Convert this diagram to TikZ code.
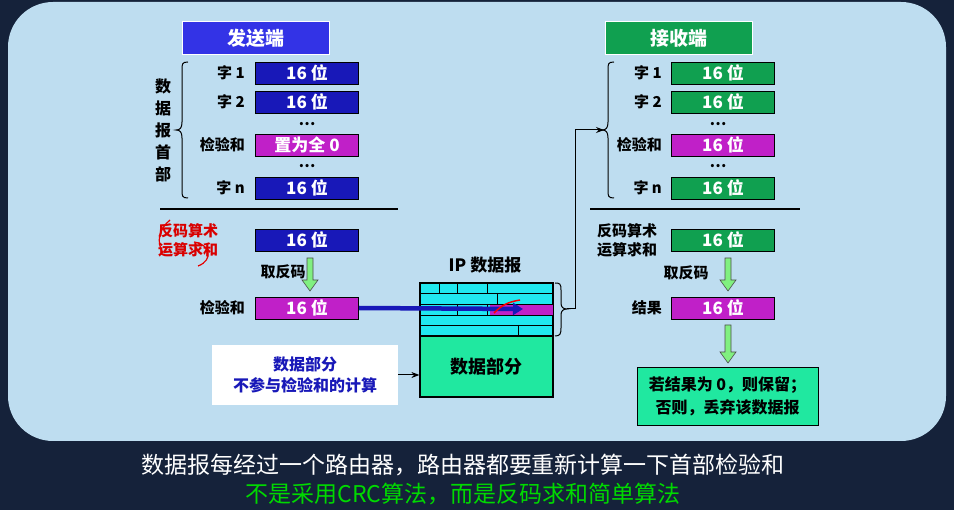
\documentclass[tikz,border=0pt]{standalone}
\usepackage{fontspec}
\setmainfont{Noto Sans CJK SC}
\usetikzlibrary{arrows.meta}
\definecolor{bgdark}{HTML}{15223A}
\definecolor{panel}{HTML}{BEDDF0}
\definecolor{sblue}{HTML}{1818B8}
\definecolor{hblue}{HTML}{3333E6}
\definecolor{rgreen}{HTML}{10A050}
\definecolor{mag}{HTML}{C020C8}
\definecolor{dgreen}{HTML}{20E8A0}
\definecolor{cyanh}{HTML}{20E8F0}
\definecolor{lgreen}{HTML}{80F080}
\tikzset{
 fbox/.style={draw=black,line width=0.8pt,minimum width=103pt,minimum height=22pt,inner sep=0pt,text=white,font=\bfseries\fontsize{17}{17}\selectfont},
 bluebox/.style={fbox,fill=sblue},
 grnbox/.style={fbox,fill=rgreen},
 magbox/.style={fbox,fill=mag},
 lbl/.style={font=\bfseries\fontsize{15}{19}\selectfont,align=center,inner sep=0pt},
 headbox/.style={draw=white,line width=1pt,minimum width=147pt,minimum height=33pt,inner sep=0pt,text=white,font=\bfseries\fontsize{19}{19}\selectfont},
 garrow/.style={draw=black!70,fill=lgreen,line width=0.6pt},
}
\newcommand{\garr}[3]{% x, ytop, ybottom
 \filldraw[garrow] (#1-3,#2) -- (#1+3,#2) -- (#1+3,#3-11) -- (#1+8,#3-11) -- (#1,#3) -- (#1-8,#3-11) -- (#1-3,#3-11) -- cycle;}
\begin{document}
\begin{tikzpicture}[x=1pt,y=-1pt]
\fill[bgdark] (0,0) rectangle (954,510);
\useasboundingbox (0,0) rectangle (954,510);
\fill[panel,rounded corners=45pt] (8,2) rectangle (946,441);
% headers
\node[headbox,fill=hblue] (snd) at (256,38) {发送端};
\node[headbox,fill=rgreen] (rcv) at (679,38) {接收端};
% left rows
\node[bluebox] (l1) at (307,73) {16 位};
\node[bluebox] (l2) at (307,102) {16 位};
\node[lbl] (ld1) at (307,124) {…};
\node[magbox] (l3) at (307,145) {置为全 0};
\node[lbl] (ld2) at (307,166) {…};
\node[bluebox] (ln) at (307,188) {16 位};
\node[lbl,anchor=east] (t1) at (245,73) {字 1};
\node[lbl,anchor=east] (t2) at (245,102) {字 2};
\node[lbl,anchor=east] (t3) at (245,145) {检验和};
\node[lbl,anchor=east] (tn) at (245,188) {字 n};
\draw[line width=1pt] (188,62) .. controls (182,62) and (182,64) .. (182,70) -- (182,122) .. controls (182,128) and (180,130) .. (176,130) .. controls (180,130) and (182,132) .. (182,138) -- (182,190) .. controls (182,196) and (182,198) .. (188,198);
\node[lbl,font=\bfseries\fontsize{16}{22}\selectfont] (vh) at (163,130) {数\\据\\报\\首\\部};
\draw[line width=1.2pt] (160,209) -- (398,209);
\node[lbl,text=red!85!black] (lsum) at (188,240) {反码算术\\运算求和};
\draw[red!90!black,line width=1.2pt] (170,220) .. controls (159,229) and (156,242) .. (163,253);
\draw[red!90!black,line width=1.2pt] (194,242) .. controls (210,244) and (214,260) .. (198,266);
\node[bluebox] (ls) at (307,240) {16 位};
\node[lbl] (linv) at (283,272) {取反码};
\garr{310}{258}{291}
\node[magbox] (lc) at (307,308) {16 位};
\node[lbl,anchor=east] (lct) at (245,308) {检验和};
% note box
\node[draw=none,fill=white,minimum width=186pt,minimum height=60pt,lbl,font=\bfseries\fontsize{16}{21}\selectfont,text=sblue] (note) at (305,375) {数据部分\\不参与检验和的计算};
% IP datagram
\node[lbl,font=\bfseries\fontsize{17}{17}\selectfont] (iplbl) at (485,265) {IP 数据报};
\node[draw=black,line width=1.2pt,fill=cyanh,minimum width=133pt,minimum height=53pt,inner sep=0pt] (hdr) at (486.5,309.5) {};
\fill[mag] (490,304) rectangle (553,315);
\draw[black,line width=0.8pt] (420,293)--(553,293) (420,304)--(553,304) (420,315)--(553,315) (420,325)--(553,325)
 (439,283)--(439,293) (457,283)--(457,293) (487,283)--(487,293) (497,293)--(497,304) (457,304)--(457,315) (487,304)--(487,315) (518,325)--(518,336);
\draw[black,line width=1.2pt] (hdr.north west) rectangle (hdr.south east);
\node[draw=black,line width=1.2pt,fill=dgreen,minimum width=133pt,minimum height=61pt,inner sep=0pt,lbl,font=\bfseries\fontsize{18}{18}\selectfont] (dat) at (486.5,366.5) {数据部分};
\draw[line width=4.5pt,sblue,-{Triangle[length=10pt,width=12pt]}] (lc.east) -- (523,309);
\draw[red,line width=1.5pt] (494,313) .. controls (502,305) and (508,302) .. (520,300);
\draw[-{Stealth[length=8pt]},line width=1pt] (note.east) -- (dat.west |- note.east);
% brace from header
\draw[line width=1pt] (555,283) .. controls (560,283) and (561,284) .. (561,290) -- (561,303) .. controls (561,307) and (563,309) .. (567,309) .. controls (563,309) and (561,311) .. (561,315) -- (561,328) .. controls (561,334) and (560,336) .. (555,336);
\coordinate (bt) at (567,309);
\draw[line width=1pt,-{Stealth[length=8pt]}] (bt) -- (575,309) -- (575,130) -- (604,130);
% right rows
\node[grnbox] (r1) at (723,73) {16 位};
\node[grnbox] (r2) at (723,102) {16 位};
\node[lbl] (rd1) at (718,124) {…};
\node[magbox] (r3) at (723,145) {16 位};
\node[lbl] (rd2) at (718,166) {…};
\node[grnbox] (rn) at (723,188) {16 位};
\node[lbl,anchor=east] (s1) at (662,73) {字 1};
\node[lbl,anchor=east] (s2) at (662,102) {字 2};
\node[lbl,anchor=east] (s3) at (662,145) {检验和};
\node[lbl,anchor=east] (sn) at (662,188) {字 n};
\draw[line width=1pt] (614,62) .. controls (608,62) and (608,64) .. (608,70) -- (608,122) .. controls (608,128) and (606,130) .. (602,130) .. controls (606,130) and (608,132) .. (608,138) -- (608,190) .. controls (608,196) and (608,198) .. (614,198);
\draw[line width=1.2pt] (590,209) -- (800,209);
\node[lbl] (rsum) at (627,240) {反码算术\\运算求和};
\node[grnbox] (rs) at (723,240) {16 位};
\node[lbl] (rinv) at (686,273) {取反码};
\garr{728}{258}{291}
\node[magbox] (rc) at (723,308) {16 位};
\node[lbl,anchor=east] (rct) at (662,308) {结果};
\garr{728}{325}{363}
\node[draw=black,line width=0.8pt,fill=dgreen,minimum width=181pt,minimum height=58pt,lbl,font=\bfseries\fontsize{16}{23}\selectfont] (res) at (727.5,396) {若结果为 0，则保留；\\否则，丢弃该数据报};
% caption
\node[text=white,font=\fontsize{23}{23}\selectfont,inner sep=0pt] (cap1) at (463,465) {数据报每经过一个路由器，路由器都要重新计算一下首部检验和};
\node[text=green!85!black,font=\fontsize{23}{23}\selectfont,inner sep=0pt] (cap2) at (463,494) {不是采用CRC算法，而是反码求和简单算法};
\end{tikzpicture}
\end{document}
